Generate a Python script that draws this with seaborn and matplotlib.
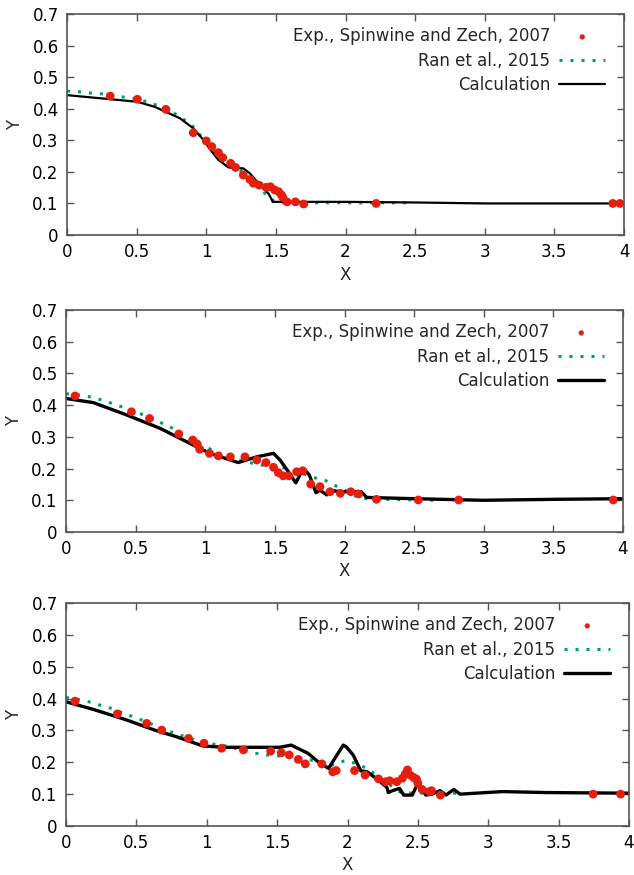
import numpy as np
import pandas as pd
import matplotlib
matplotlib.use("Agg")
import matplotlib.pyplot as plt
import seaborn as sns

# panel 1
exp1_x = [0.31, 0.505, 0.71, 0.907, 1.0, 1.04, 1.087, 1.118, 1.175, 1.21, 1.266, 1.314, 1.338,
          1.38, 1.43, 1.46, 1.49, 1.52, 1.54, 1.55, 1.58, 1.64, 1.70, 2.22, 3.92, 3.97]
exp1_y = [0.44, 0.43, 0.398, 0.324, 0.298, 0.28, 0.261, 0.245, 0.227, 0.214, 0.19, 0.176, 0.164,
          0.158, 0.151, 0.153, 0.143, 0.137, 0.127, 0.119, 0.105, 0.105, 0.098, 0.1, 0.1, 0.1]
ran1_x = [0.0, 0.08, 0.18, 0.28, 0.46, 0.55, 0.64, 0.73, 0.81, 0.895, 0.955, 1.015, 1.075, 1.16,
          1.24, 1.326, 1.386, 1.42, 1.48, 1.55, 2.0, 2.45]
ran1_y = [0.456, 0.454, 0.449, 0.446, 0.433, 0.425, 0.412, 0.396, 0.375, 0.348, 0.317, 0.285,
          0.259, 0.227, 0.206, 0.18, 0.158, 0.132, 0.109, 0.102, 0.102, 0.102]
calc1_x = [0.0, 0.505, 0.63, 0.81, 0.907, 0.98, 1.04, 1.087, 1.16, 1.266, 1.314, 1.386, 1.446,
           1.46, 1.477, 2.0, 2.5, 3.0, 3.5, 4.0]
calc1_y = [0.443, 0.422, 0.406, 0.37, 0.338, 0.301, 0.264, 0.238, 0.214, 0.211, 0.195, 0.158,
           0.132, 0.121, 0.105, 0.105, 0.103, 0.1, 0.1, 0.1]

# panel 2
exp2_x = [0.065, 0.47, 0.60, 0.81, 0.91, 0.94, 0.96, 1.03, 1.094, 1.18, 1.285, 1.37, 1.436, 1.49,
          1.525, 1.56, 1.60, 1.657, 1.70, 1.757, 1.824, 1.896, 1.97, 2.045, 2.10, 2.23, 2.53,
          2.82, 3.93]
exp2_y = [0.429, 0.379, 0.358, 0.309, 0.29, 0.278, 0.261, 0.248, 0.24, 0.237, 0.237, 0.227,
          0.219, 0.204, 0.187, 0.177, 0.177, 0.19, 0.193, 0.151, 0.143, 0.127, 0.122, 0.127,
          0.12, 0.103, 0.101, 0.101, 0.101]
ran2_x = [0.0, 0.09, 0.185, 0.275, 0.364, 0.455, 0.54, 0.63, 0.72, 0.80, 0.88, 0.96, 1.046, 1.13,
          1.226, 1.316, 1.405, 1.50, 1.585, 1.68, 1.776, 1.865, 1.948, 2.03, 2.11, 2.30, 2.65]
ran2_y = [0.436, 0.432, 0.425, 0.414, 0.40, 0.387, 0.372, 0.355, 0.337, 0.32, 0.295, 0.278,
          0.259, 0.243, 0.229, 0.219, 0.211, 0.208, 0.2, 0.187, 0.172, 0.162, 0.143, 0.125,
          0.106, 0.103, 0.1]
calc2_x = [0.0, 0.196, 0.436, 0.675, 0.914, 1.034, 1.237, 1.37, 1.49, 1.537, 1.597, 1.65, 1.686,
           1.716, 1.747, 1.795, 1.824, 1.872, 1.89, 1.968, 2.12, 2.16, 2.5, 3.0, 3.5, 4.0]
calc2_y = [0.421, 0.408, 0.369, 0.327, 0.274, 0.248, 0.219, 0.237, 0.248, 0.227, 0.19, 0.155,
           0.185, 0.196, 0.18, 0.124, 0.132, 0.117, 0.132, 0.127, 0.127, 0.109, 0.105, 0.1,
           0.103, 0.105]

# panel 3
exp3_x = [0.064, 0.365, 0.573, 0.68, 0.87, 0.98, 1.106, 1.26, 1.454, 1.53, 1.586, 1.65, 1.70,
          1.817, 1.895, 1.92, 2.05, 2.125, 2.22, 2.27, 2.30, 2.35, 2.39, 2.41, 2.426, 2.445,
          2.468, 2.49, 2.50, 2.53, 2.58, 2.597, 2.66, 3.745, 3.94]
exp3_y = [0.392, 0.352, 0.322, 0.301, 0.275, 0.26, 0.244, 0.239, 0.235, 0.23, 0.223, 0.209,
          0.195, 0.195, 0.17, 0.174, 0.174, 0.16, 0.148, 0.139, 0.142, 0.139, 0.15, 0.163,
          0.176, 0.16, 0.153, 0.147, 0.134, 0.115, 0.108, 0.111, 0.097, 0.1, 0.1]
ran3_x = [0.0, 0.057, 0.147, 0.237, 0.325, 0.42, 0.507, 0.597, 0.68, 0.775, 0.862, 0.952, 1.046,
          1.14, 1.236, 1.326, 1.42, 1.515, 1.60, 1.70, 1.80, 1.886, 1.98, 2.076, 2.16, 2.24,
          2.31, 2.38, 2.48, 2.78]
ran3_y = [0.403, 0.40, 0.392, 0.38, 0.369, 0.352, 0.338, 0.322, 0.307, 0.29, 0.278, 0.265, 0.257,
          0.251, 0.24, 0.23, 0.223, 0.22, 0.217, 0.212, 0.199, 0.19, 0.205, 0.195, 0.174, 0.147,
          0.126, 0.105, 0.103, 0.103]
calc3_x = [0.0, 0.194, 0.43, 0.63, 0.786, 0.975, 1.14, 1.52, 1.60, 1.72, 1.79, 1.865, 1.97,
           1.99, 2.04, 2.095, 2.14, 2.22, 2.28, 2.29, 2.32, 2.37, 2.40, 2.46, 2.50, 2.52, 2.557,
           2.60, 2.657, 2.70, 2.755, 2.80, 3.10, 3.41, 4.0]
calc3_y = [0.39, 0.366, 0.333, 0.301, 0.28, 0.251, 0.247, 0.247, 0.254, 0.228, 0.202, 0.181,
           0.254, 0.249, 0.223, 0.173, 0.17, 0.144, 0.121, 0.105, 0.111, 0.118, 0.097, 0.097,
           0.134, 0.121, 0.097, 0.1, 0.111, 0.097, 0.115, 0.1, 0.108, 0.105, 0.103]

panels = [
    (exp1_x, exp1_y, ran1_x, ran1_y, calc1_x, calc1_y, 1.6),
    (exp2_x, exp2_y, ran2_x, ran2_y, calc2_x, calc2_y, 2.4),
    (exp3_x, exp3_y, ran3_x, ran3_y, calc3_x, calc3_y, 2.4),
]
# axes boxes in pixels: left, right, top, bottom
boxes = [(67, 624, 14, 235), (66, 623, 310, 532), (66, 629, 603, 826)]

sns.set_style("ticks")
plt.rcParams["font.family"] = ["DejaVu Sans"]

W, H = 634, 875
fig = plt.figure(figsize=(W / 100, H / 100), dpi=100)

red = "#e51e10"
green = "#009e73"
gray = "#555555"

for (ex, ey, rx, ry, cx, cy, lw), (l, r, t, b) in zip(panels, boxes):
    ax = fig.add_axes([l / W, 1 - b / H, (r - l) / W, (b - t) / H])
    df_e = pd.DataFrame({"X": ex, "Y": ey})
    df_r = pd.DataFrame({"X": rx, "Y": ry})
    df_c = pd.DataFrame({"X": cx, "Y": cy})
    sns.lineplot(data=df_r, x="X", y="Y", ax=ax, color=green, lw=2.2, sort=False,
                 estimator=None, linestyle=(0, (1.0, 2.6)), label="Ran et al., 2015")
    sns.lineplot(data=df_c, x="X", y="Y", ax=ax, color="black", lw=lw, sort=False,
                 estimator=None, label="Calculation")
    sns.scatterplot(data=df_e, x="X", y="Y", ax=ax, color=red, s=40, edgecolor="none",
                    label="Exp., Spinwine and Zech, 2007", zorder=3)
    ax.set_xlim(0, 4)
    ax.set_ylim(0, 0.7)
    ax.set_xticks(np.arange(0, 4.01, 0.5))
    ax.set_xticklabels(["0", "0.5", "1", "1.5", "2", "2.5", "3", "3.5", "4"])
    ax.set_yticks(np.arange(0, 0.71, 0.1))
    ax.set_yticklabels(["0", "0.1", "0.2", "0.3", "0.4", "0.5", "0.6", "0.7"])
    ax.tick_params(direction="in", length=5, width=1, colors=gray, labelcolor="black",
                   labelsize=12, top=True, right=True, pad=6)
    for sp in ax.spines.values():
        sp.set_visible(True)
        sp.set_color(gray)
        sp.set_linewidth(1.2)
    ax.set_xlabel("X", fontsize=12, labelpad=3)
    ax.set_ylabel("Y", fontsize=12, labelpad=6)
    h, lab = ax.get_legend_handles_labels()
    order = [2, 0, 1]
    ax.legend([h[i] for i in order], [lab[i] for i in order], loc="upper right",
              bbox_to_anchor=(1.0, 1.025),
              frameon=False, markerfirst=False, fontsize=12, handlelength=2.75,
              handletextpad=0.55, labelspacing=0.38, borderaxespad=0.73, markerscale=0.6)

fig.savefig("out.png", dpi=100)
